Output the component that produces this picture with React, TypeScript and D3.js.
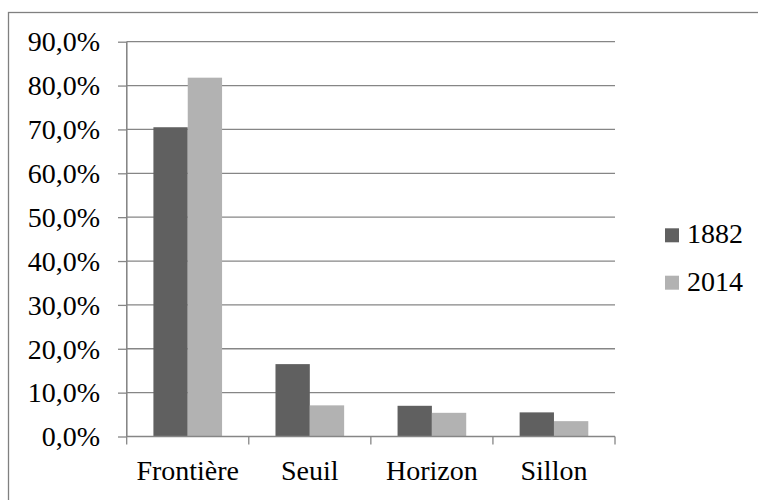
import React, { useEffect, useRef } from "react";
import * as d3 from "d3";

const categories = ["Frontière", "Seuil", "Horizon", "Sillon"];
const seriesNames = ["1882", "2014"];
const values1882 = [70.5, 16.5, 7.0, 5.5];
const values2014 = [81.8, 7.1, 5.4, 3.5];
const yTicks = [0, 10, 20, 30, 40, 50, 60, 70, 80, 90];
const colors = ["#606060", "#b2b2b2"];

const W = 758;
const H = 500;
const plot = { left: 126.7, right: 615, top: 41.7, bottom: 436.5 };
const FF = `Tinos, "Liberation Serif", "Times New Roman", Times, serif`;

export default function App() {
  const ref = useRef<SVGSVGElement | null>(null);

  useEffect(() => {
    const svg = d3.select(ref.current);
    svg.selectAll("*").remove();
    const grid = "#868686";
    const x = d3.scaleBand<string>().domain(categories).range([plot.left, plot.right]).paddingInner(0).paddingOuter(0);
    const inner = d3.scaleBand<string>().domain(seriesNames).range([0, x.bandwidth()]).paddingInner(0).paddingOuter(0.778);
    const y = d3.scaleLinear().domain([0, 90]).range([plot.bottom, plot.top]);
    const series = [values1882, values2014];
    const fmt = (v: number) => v.toFixed(1).replace(".", ",") + "%";

    svg.append("rect").attr("x", 8.5).attr("y", 12.5).attr("width", W + 20).attr("height", H + 20)
      .attr("fill", "none").attr("stroke", "#808080").attr("stroke-width", 1.3);

    svg.selectAll("line.grid").data(yTicks.filter((t) => t > 0)).join("line").attr("class", "grid")
      .attr("x1", plot.left).attr("x2", plot.right).attr("y1", (d) => y(d)).attr("y2", (d) => y(d))
      .attr("stroke", grid).attr("stroke-width", 1.3);

    const yAxis = d3.axisLeft(y).tickValues(yTicks).tickSize(8.7).tickPadding(18).tickFormat((d) => fmt(d as number));
    const gy = svg.append("g").attr("transform", `translate(${plot.left},0)`).call(yAxis);
    gy.select(".domain").attr("stroke", grid).attr("stroke-width", 1.3).attr("d", `M0,${plot.top}V${plot.bottom}`);
    gy.selectAll(".tick line").attr("stroke", grid).attr("stroke-width", 1.3);
    gy.selectAll(".tick text").attr("font-family", FF).attr("font-size", 28).attr("fill", "#000").attr("dy", "0.33em");

    series.forEach((vals, si) => {
      svg.append("g").selectAll("rect").data(categories).join("rect")
        .attr("x", (c) => (x(c) as number) + (inner(seriesNames[si]) as number))
        .attr("y", (c, i) => y(vals[i]))
        .attr("width", inner.bandwidth())
        .attr("height", (c, i) => plot.bottom - y(vals[i]))
        .attr("fill", colors[si]);
    });

    svg.append("line").attr("x1", plot.left).attr("x2", plot.left).attr("y1", plot.top).attr("y2", plot.bottom)
      .attr("stroke", grid).attr("stroke-width", 1.3);
    svg.append("line").attr("x1", plot.left).attr("x2", plot.right).attr("y1", plot.bottom).attr("y2", plot.bottom)
      .attr("stroke", grid).attr("stroke-width", 1.3);
    const bounds = categories.map((c) => x(c) as number).concat([plot.right]);
    svg.selectAll("line.xt").data(bounds).join("line").attr("class", "xt")
      .attr("x1", (d) => d).attr("x2", (d) => d).attr("y1", plot.bottom).attr("y2", plot.bottom + 8)
      .attr("stroke", grid).attr("stroke-width", 1.3);
    svg.selectAll("text.xl").data(categories).join("text").attr("class", "xl")
      .attr("x", (c) => (x(c) as number) + x.bandwidth() / 2).attr("y", 480)
      .attr("text-anchor", "middle").attr("font-family", FF).attr("font-size", 28).attr("fill", "#000")
      .text((c) => c);

    const lg = svg.append("g");
    seriesNames.forEach((s, i) => {
      lg.append("rect").attr("x", 665).attr("y", 228.3 + i * 47.4).attr("width", 14).attr("height", 14).attr("fill", colors[i]);
      lg.append("text").attr("x", 687).attr("y", 243.3 + i * 47.4).attr("font-family", FF).attr("font-size", 28)
        .attr("fill", "#000").text(s);
    });
  }, []);

  return <svg ref={ref} width={W} height={H} style={{ position: "absolute", left: 0, top: 0, background: "#fff" }} />;
}
